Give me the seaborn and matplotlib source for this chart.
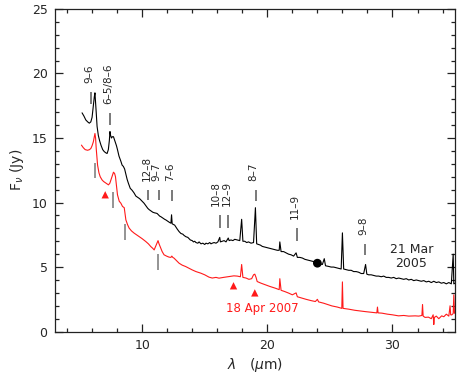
import numpy as np
import pandas as pd
import seaborn as sns
import matplotlib.pyplot as plt
from matplotlib.ticker import MultipleLocator

# --- Data ---
# 21 Mar 2005 spectrum (black)
wl_2005 = [5.2, 5.35, 5.5, 5.65, 5.78, 5.9, 6.0, 6.1, 6.18, 6.23, 6.28, 6.33, 6.4, 6.5,
           6.6, 6.71, 6.85, 6.97, 7.1, 7.2, 7.3, 7.38, 7.43, 7.48, 7.55, 7.62, 7.71, 7.78,
           7.85, 7.95, 8.03, 8.15, 8.3, 8.4, 8.5, 8.6, 8.7, 8.8, 8.9, 9.05, 9.2, 9.35,
           9.5, 9.65, 9.8, 10.0, 10.15, 10.3, 10.45, 10.56, 10.7, 10.85, 11.0, 11.1, 11.2,
           11.3, 11.4, 11.5, 11.65, 11.8, 11.9, 12.05, 12.2, 12.3, 12.35, 12.4, 12.5, 12.6,
           12.7, 12.8, 12.95, 13.1, 13.25, 13.35, 13.5, 13.65, 13.75, 13.85, 14.0, 14.1,
           14.2, 14.3, 14.45, 14.55, 14.7, 14.85, 15.0, 15.1, 15.25, 15.4, 15.5, 15.6,
           15.75, 15.9, 16.05, 16.2, 16.25, 16.4, 16.55, 16.7, 16.88, 16.95, 17.1, 17.25,
           17.4, 17.6, 17.8, 17.95, 18.05, 18.2, 18.35, 18.5, 18.7, 18.9, 19.05, 19.15,
           19.3, 19.45, 19.6, 19.8, 20.0, 20.2, 20.4, 20.6, 20.8, 20.95, 21.0, 21.1, 21.3,
           21.5, 21.7, 21.9, 22.1, 22.3, 22.4, 22.6, 22.8, 23.0, 23.2, 23.4, 23.6, 23.8,
           24.0, 24.2, 24.4, 24.55, 24.65, 24.9, 25.1, 25.3, 25.5, 25.7, 25.9, 26.0, 26.1,
           26.3, 26.5, 26.7, 26.9, 27.1, 27.3, 27.5, 27.7, 27.85, 27.95, 28.1, 28.3, 28.5,
           28.7, 28.9, 29.1, 29.3, 29.5, 29.7, 29.9, 30.1, 30.3, 30.5, 30.7, 30.9, 31.1,
           31.3, 31.5, 31.7, 31.9, 32.1, 32.3, 32.5, 32.7, 32.9, 33.1, 33.3, 33.5, 33.7,
           33.9, 34.1, 34.3, 34.5, 34.7, 34.85, 34.9, 35.0]
flux_2005 = [16.95, 16.7, 16.4, 16.25, 16.15, 16.25, 16.6, 17.5, 18.2, 18.5, 17.8, 17.0, 15.9, 15.2,
             14.8, 14.45, 14.1, 13.95, 13.85, 13.8, 14.1, 14.8, 15.5, 15.2, 15.0, 15.1, 15.1, 14.9,
             14.7, 14.4, 14.1, 13.6, 13.2, 12.9, 12.8, 12.6, 12.2, 11.8, 11.5, 11.1, 10.95, 10.75,
             10.5, 10.4, 10.3, 10.1, 9.95, 9.75, 9.55, 9.45, 9.35, 9.25, 9.2, 9.18, 9.15,
             9.05, 8.95, 8.9, 8.8, 8.7, 8.65, 8.55, 8.45, 8.4, 9.05, 8.35, 8.3, 8.25,
             8.1, 7.95, 7.75, 7.6, 7.55, 7.45, 7.35, 7.3, 7.2, 7.1, 7.05, 6.95,
             7.0, 6.9, 6.85, 6.95, 6.8, 6.85, 6.75, 6.85, 6.8, 6.9, 6.8, 6.85,
             6.9, 6.85, 6.95, 7.3, 6.95, 7.0, 7.05, 6.95, 7.25, 7.05, 7.1, 7.05,
             7.15, 7.1, 7.05, 8.7, 7.0, 7.0, 6.9, 6.95, 6.85, 6.9, 9.6, 6.8,
             6.75, 6.7, 6.6, 6.55, 6.5, 6.45, 6.4, 6.35, 6.3, 6.3, 6.95, 6.2, 6.2,
             6.1, 6.0, 5.95, 5.85, 6.1, 5.75, 5.75, 5.7, 5.6, 5.55, 5.5, 5.45, 5.4,
             5.3, 5.25, 5.2, 5.65, 5.1, 5.05, 5.0, 5.0, 4.95, 4.9, 4.85, 7.65, 4.85,
             4.8, 4.75, 4.75, 4.65, 4.65, 4.6, 4.5, 4.5, 5.2, 4.45, 4.4, 4.4, 4.35,
             4.3, 4.3, 4.25, 4.3, 4.2, 4.2, 4.15, 4.2, 4.1, 4.15, 4.1, 4.05, 4.1,
             4.0, 4.05, 3.95, 4.0, 3.95, 3.9, 3.95, 3.85, 3.9, 3.8, 3.9, 3.8, 3.85,
             3.75, 3.8, 3.7, 3.8, 3.7, 6.0, 3.7, 3.75]

# 18 Apr 2007 spectrum (red)
wl_2007 = [5.15, 5.3, 5.45, 5.64, 5.8, 5.91, 6.0, 6.1, 6.18, 6.23, 6.28, 6.33, 6.44, 6.55,
           6.65, 6.8, 6.92, 7.11, 7.31, 7.42, 7.51, 7.62, 7.71, 7.8, 7.87, 7.95, 8.03, 8.17,
           8.3, 8.43, 8.57, 8.7, 8.83, 8.96, 9.15, 9.36, 9.55, 9.76, 10.0, 10.29, 10.5,
           10.69, 10.85, 10.96, 11.09, 11.2, 11.27, 11.35, 11.49, 11.6, 11.75, 11.95, 12.15,
           12.3, 12.37, 12.45, 12.55, 12.75, 12.95, 13.2, 13.48, 13.75, 14.0, 14.3, 14.68,
           15.0, 15.34, 15.6, 15.9, 16.14, 16.5, 16.93, 17.33, 17.6, 17.85, 17.95, 18.05,
           18.3, 18.53, 18.75, 18.9, 19.0, 19.1, 19.19, 19.5, 19.86, 20.2, 20.65, 20.95,
           21.0, 21.1, 21.4, 21.71, 22.0, 22.3, 22.4, 22.77, 23.1, 23.5, 23.84, 24.0,
           24.1, 24.5, 25.16, 25.6, 25.95, 26.0, 26.05, 26.49, 27.0, 27.4, 27.82, 28.3,
           28.75, 28.8, 28.85, 29.15, 29.6, 30.0, 30.48, 30.9, 31.3, 31.81, 32.1, 32.35,
           32.4, 32.45, 32.6, 32.87, 33.1, 33.25, 33.3, 33.35, 33.5, 33.7, 33.93, 34.1,
           34.3, 34.5, 34.6, 34.65, 34.73, 34.85, 34.9, 34.95, 35.0]
flux_2007 = [14.45, 14.25, 14.1, 14.05, 14.1, 14.2, 14.4, 14.7, 15.1, 15.35, 15.0, 14.2, 12.9, 12.3,
             12.0, 11.75, 11.63, 11.5, 11.37, 11.5, 11.76, 12.1, 12.35, 12.25, 12.0, 11.3, 10.6, 10.1,
             9.95, 9.7, 9.6, 8.66, 8.3, 8.02, 7.8, 7.63, 7.5, 7.36, 7.2, 6.98, 6.8,
             6.59, 6.45, 6.33, 6.64, 6.9, 7.05, 6.8, 6.46, 6.2, 5.95, 5.85, 5.77,
             5.75, 5.85, 5.75, 5.69, 5.5, 5.3, 5.15, 5.04, 4.9, 4.78, 4.65, 4.53,
             4.4, 4.22, 4.15, 4.2, 4.14, 4.2, 4.26, 4.32, 4.3, 4.25, 5.2, 4.2,
             4.15, 4.05, 4.1, 4.4, 4.45, 4.2, 3.88, 3.75, 3.62, 3.5, 3.36, 3.25,
             4.1, 3.2, 3.1, 2.98, 2.85, 3.0, 2.7, 2.59, 2.5, 2.4, 2.33, 2.5,
             2.3, 2.2, 1.99, 1.9, 1.8, 3.85, 1.8, 1.74, 1.65, 1.6, 1.55, 1.5,
             1.45, 1.9, 1.45, 1.43, 1.35, 1.3, 1.22, 1.25, 1.2, 1.22, 1.2, 1.25,
             2.1, 1.2, 1.1, 1.12, 1.0, 1.3, 0.55, 1.1, 1.2, 1.0, 1.22, 1.15,
             1.35, 1.2, 2.0, 1.3, 1.29, 1.4, 2.85, 1.45, 1.4]

# PAH features marked below the 2007 spectrum (x, y-bottom, y-top)
pah_wl = [6.2, 7.7, 8.6, 11.3]
pah_lo = [11.9, 9.6, 7.1, 4.8]
pah_hi = [13.05, 10.85, 8.3, 6.05]

# hydrogen line identifications above the 2005 spectrum
h_labels = ['9\u20136', '6\u20135/8\u20136', '12\u20138', '9\u20137', '7\u20136',
            '10\u20138', '12\u20139', '8\u20137', '11\u20139', '9\u20138']
h_wl = [5.91, 7.46, 10.50, 11.31, 12.37, 16.21, 16.88, 19.06, 22.34, 27.80]
h_lo = [17.6, 16.0, 10.2, 10.2, 10.1, 8.0, 8.0, 10.1, 7.0, 5.9]
h_hi = [18.6, 16.9, 11.0, 10.95, 11.0, 9.0, 9.0, 11.0, 8.05, 6.8]

# red triangles and black dot
tri_wl = [7.05, 17.3, 19.0]
tri_flux = [10.6, 3.55, 3.0]
dot_wl = [24.0]
dot_flux = [5.3]


def main():
    sns.set_theme(style='ticks')
    plt.rcParams['font.family'] = ['DejaVu Sans']

    fig = plt.figure(figsize=(4.62, 3.73), dpi=100)
    ax = fig.add_axes([0.118, 0.111, 0.867, 0.865])

    df05 = pd.DataFrame({'wl': wl_2005, 'flux': flux_2005})
    df07 = pd.DataFrame({'wl': wl_2007, 'flux': flux_2007})
    sns.lineplot(data=df05, x='wl', y='flux', color='black', lw=0.8,
                 sort=False, estimator=None, ax=ax)
    sns.lineplot(data=df07, x='wl', y='flux', color='#ff1a1a', lw=0.8,
                 sort=False, estimator=None, ax=ax)

    # line markers
    ax.vlines(h_wl, h_lo, h_hi, color='#555555', lw=1.1)
    ax.vlines(pah_wl, pah_lo, pah_hi, color='#777777', lw=1.1)
    for lab, x, top in zip(h_labels, h_wl, h_hi):
        shift = 0.3 if lab == '10\u20138' else 0.15
        ax.text(x - shift, top + 0.7, lab, rotation=90, ha='center', va='bottom',
                fontsize=7.5)

    sns.scatterplot(x=tri_wl, y=tri_flux, marker='^', color='#ff1a1a', s=28,
                    edgecolor='none', ax=ax)
    sns.scatterplot(x=dot_wl, y=dot_flux, marker='o', color='black', s=40,
                    edgecolor='none', ax=ax)

    ax.text(31.5, 5.8, '21 Mar\n2005', ha='center', va='center', fontsize=9,
            linespacing=1.1)
    ax.text(19.6, 1.76, '18 Apr 2007', ha='center', va='center', fontsize=8.5,
            color='#ff1a1a')

    ax.set_xlim(3, 35)
    ax.set_ylim(0, 25)
    ax.xaxis.set_major_locator(MultipleLocator(10))
    ax.xaxis.set_minor_locator(MultipleLocator(2))
    ax.yaxis.set_major_locator(MultipleLocator(5))
    ax.yaxis.set_minor_locator(MultipleLocator(1))
    ax.tick_params(which='both', direction='in', top=True, right=True,
                   color='#222222', width=0.9)
    ax.tick_params(which='major', length=5.8, labelsize=9, pad=5)
    ax.tick_params(which='minor', length=3.2)
    for sp in ax.spines.values():
        sp.set_linewidth(0.9)
        sp.set_color('#222222')

    ax.set_xlabel(r'$\lambda$   ($\mu$m)', fontsize=10, labelpad=3)
    ax.set_ylabel(r'F$_\nu$ (Jy)', fontsize=10, labelpad=4)

    fig.savefig('out.png', dpi=100)


if __name__ == "__main__":
    main()
